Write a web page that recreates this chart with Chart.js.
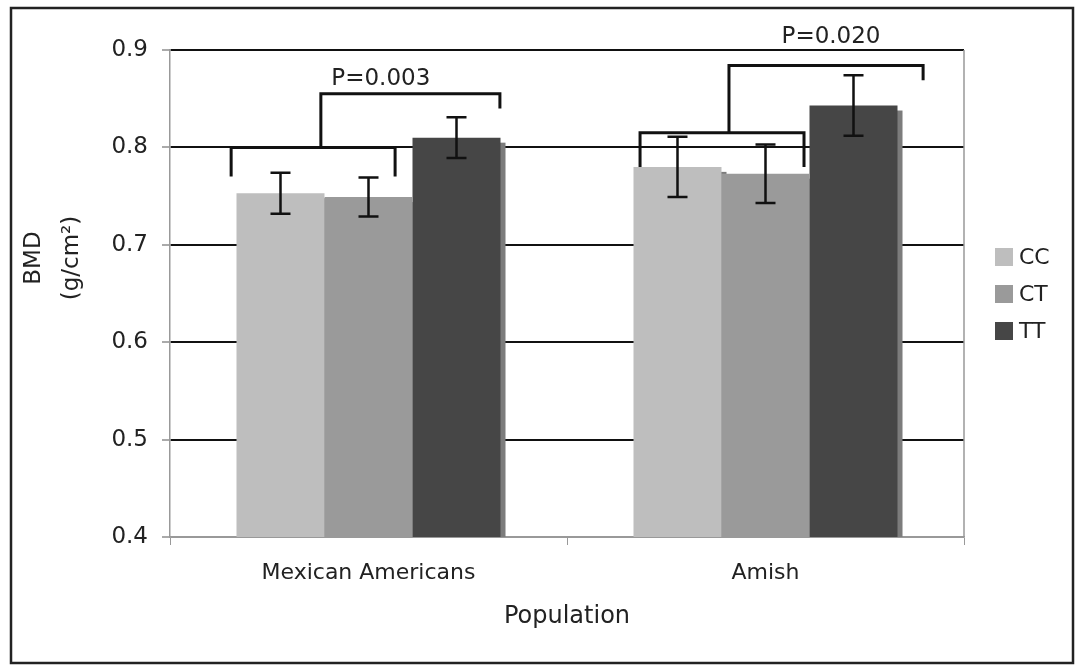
<!DOCTYPE html>
<html>
<head>
<meta charset="utf-8">
<script src="https://cdn.jsdelivr.net/npm/chart.js@4/dist/chart.umd.min.js"></script>
<style>
  body { margin: 0; background: #fff; }
  #wrap { width: 1078px; height: 665px; position: relative; }
</style>
</head>
<body>
<div id="wrap"><canvas id="grafico-bmd"></canvas></div>
<script>
// dados
var populacoes = ["Mexican Americans", "Amish"];
var genotipos = ["CC", "CT", "TT"];
var coresGenotipo = ["#bebebe", "#9a9a9a", "#464646"];
var bmdCC = [0.753, 0.780];
var bmdCT = [0.749, 0.773];
var bmdTT = [0.810, 0.843];
var erroCC = [0.021, 0.031];
var erroCT = [0.020, 0.030];
var erroTT = [0.021, 0.031];
var ticksY = [0.4, 0.5, 0.6, 0.7, 0.8, 0.9];
var tituloY = ["BMD", "(g/cm\u00b2)"];
var tituloX = "Population";

// colchetes de comparacao: posicoes em larguras de categoria e valores de BMD
var comparacoes = [
  { cat: 0, texto: "P=0.003", baixo: [-0.346, 0.067], yBaixo: 0.800, pernaBaixo: 0.770,
    haste: -0.120, alto: 0.331, yAlto: 0.855, pernaAlto: 0.840, textoU: 0.031, textoY: 0.870 },
  { cat: 1, texto: "P=0.020", baixo: [-0.316, 0.097], yBaixo: 0.815, pernaBaixo: 0.780,
    haste: -0.092, alto: 0.397, yAlto: 0.884, pernaAlto: 0.869, textoU: 0.165, textoY: 0.913 }
];

var valores = [bmdCC, bmdCT, bmdTT];
var erros = [erroCC, erroCT, erroTT];
var fonte = "'DejaVu Sans', Verdana, sans-serif";

var sombraBarras = {
  id: "sombraBarras",
  beforeDatasetsDraw: function (chart) {
    var ctx = chart.ctx;
    var fundo = chart.chartArea.bottom;
    ctx.save();
    ctx.fillStyle = "#7c7c7c";
    chart.data.datasets.forEach(function (ds, i) {
      chart.getDatasetMeta(i).data.forEach(function (bar) {
        var l = bar.x - bar.width / 2;
        ctx.fillRect(l + 5, bar.y + 5, bar.width, fundo - bar.y - 5);
      });
    });
    ctx.restore();
  }
};

var barrasErro = {
  id: "barrasErro",
  afterDatasetsDraw: function (chart) {
    var ctx = chart.ctx;
    var y = chart.scales.y;
    ctx.save();
    ctx.strokeStyle = "#111";
    ctx.lineWidth = 2.5;
    chart.data.datasets.forEach(function (ds, i) {
      chart.getDatasetMeta(i).data.forEach(function (bar, j) {
        var v = ds.data[j];
        var e = erros[i][j];
        var yTop = y.getPixelForValue(v + e);
        var yBot = y.getPixelForValue(v - e);
        ctx.beginPath();
        ctx.moveTo(bar.x, yTop); ctx.lineTo(bar.x, yBot);
        ctx.moveTo(bar.x - 10, yTop); ctx.lineTo(bar.x + 10, yTop);
        ctx.moveTo(bar.x - 10, yBot); ctx.lineTo(bar.x + 10, yBot);
        ctx.stroke();
      });
    });
    ctx.restore();
  }
};

var extras = {
  id: "extras",
  beforeDraw: function (chart) {
    var ctx = chart.ctx;
    ctx.save();
    ctx.fillStyle = "#fff";
    ctx.fillRect(0, 0, chart.width, chart.height);
    ctx.restore();
  },
  afterDraw: function (chart) {
    var ctx = chart.ctx;
    var x = chart.scales.x;
    var y = chart.scales.y;
    var area = chart.chartArea;
    var larg = x.width / populacoes.length;
    ctx.save();

    // borda direita do grafico
    ctx.strokeStyle = "#999";
    ctx.lineWidth = 1.5;
    ctx.beginPath();
    ctx.moveTo(area.right, area.top);
    ctx.lineTo(area.right, area.bottom);
    ctx.stroke();

    // colchetes
    ctx.strokeStyle = "#111";
    ctx.lineWidth = 3;
    ctx.fillStyle = "#222";
    ctx.font = "23px " + fonte;
    ctx.textAlign = "center";
    ctx.textBaseline = "middle";
    comparacoes.forEach(function (c) {
      var cx = x.getPixelForValue(c.cat);
      var px = function (u) { return cx + u * larg; };
      ctx.beginPath();
      ctx.moveTo(px(c.baixo[0]), y.getPixelForValue(c.pernaBaixo));
      ctx.lineTo(px(c.baixo[0]), y.getPixelForValue(c.yBaixo));
      ctx.lineTo(px(c.baixo[1]), y.getPixelForValue(c.yBaixo));
      ctx.lineTo(px(c.baixo[1]), y.getPixelForValue(c.pernaBaixo));
      ctx.moveTo(px(c.haste), y.getPixelForValue(c.yBaixo));
      ctx.lineTo(px(c.haste), y.getPixelForValue(c.yAlto));
      ctx.lineTo(px(c.alto), y.getPixelForValue(c.yAlto));
      ctx.lineTo(px(c.alto), y.getPixelForValue(c.pernaAlto));
      ctx.stroke();
      ctx.fillText(c.texto, px(c.textoU), y.getPixelForValue(c.textoY));
    });

    // titulo do eixo y
    ctx.font = "23px " + fonte;
    tituloY.forEach(function (t, i) {
      ctx.save();
      ctx.translate(34 + i * 38, 258);
      ctx.rotate(-Math.PI / 2);
      ctx.fillText(t, 0, 0);
      ctx.restore();
    });

    // legenda
    ctx.textAlign = "left";
    ctx.font = "22px " + fonte;
    chart.data.datasets.forEach(function (ds, i) {
      var ty = 248 + i * 37;
      ctx.fillStyle = ds.backgroundColor;
      ctx.fillRect(995, ty, 18, 18);
      ctx.fillStyle = "#222";
      ctx.fillText(ds.label, 1019, ty + 10);
    });

    // moldura externa
    ctx.strokeStyle = "#222";
    ctx.lineWidth = 2.5;
    ctx.strokeRect(11, 8, 1062, 655);
    ctx.restore();
  }
};

var graficoBmd = document.getElementById("grafico-bmd").getContext("2d");

new Chart(graficoBmd, {
  type: "bar",
  data: {
    labels: populacoes,
    datasets: genotipos.map(function (g, i) {
      return {
        label: g,
        backgroundColor: coresGenotipo[i],
        data: valores[i],
        categoryPercentage: 0.665,
        barPercentage: 1.0,
      };
    }),
  },
  options: {
    responsive: true,
    maintainAspectRatio: false,
    animation: false,
    layout: {
      padding: { left: 0, right: 114, top: 50, bottom: 0 },
    },
    plugins: {
      title: { display: false },
      legend: { display: false },
      tooltip: { enabled: false },
    },
    scales: {
      x: {
        afterFit: function (scale) { scale.height = 128; },
        grid: {
          drawOnChartArea: false,
          drawTicks: true,
          tickLength: 8,
          tickColor: "#999",
          offset: true,
        },
        border: { color: "#999", width: 1.5 },
        ticks: {
          color: "#222",
          padding: 15,
          font: { family: fonte, size: 22 },
        },
        title: {
          display: true,
          text: tituloX,
          color: "#222",
          padding: { top: 0, bottom: 34 },
          font: { family: fonte, size: 24 },
        },
      },
      y: {
        min: 0.4,
        max: 0.9,
        afterFit: function (scale) { scale.width = 170; },
        afterBuildTicks: function (scale) {
          scale.ticks = ticksY.map(function (v) { return { value: v }; });
        },
        grid: {
          color: function (c) {
            return c.tick && c.tick.value > 0.4 ? "#111" : "#999";
          },
          lineWidth: 2,
          tickLength: 8,
          tickColor: "#aaa",
        },
        border: { color: "#999", width: 1.5 },
        ticks: {
          color: "#222",
          padding: 14,
          font: { family: fonte, size: 23 },
          callback: function (v) { return v.toFixed(1); },
        },
      },
    },
  },
  plugins: [sombraBarras, barrasErro, extras],
});
</script>
</body>
</html>
